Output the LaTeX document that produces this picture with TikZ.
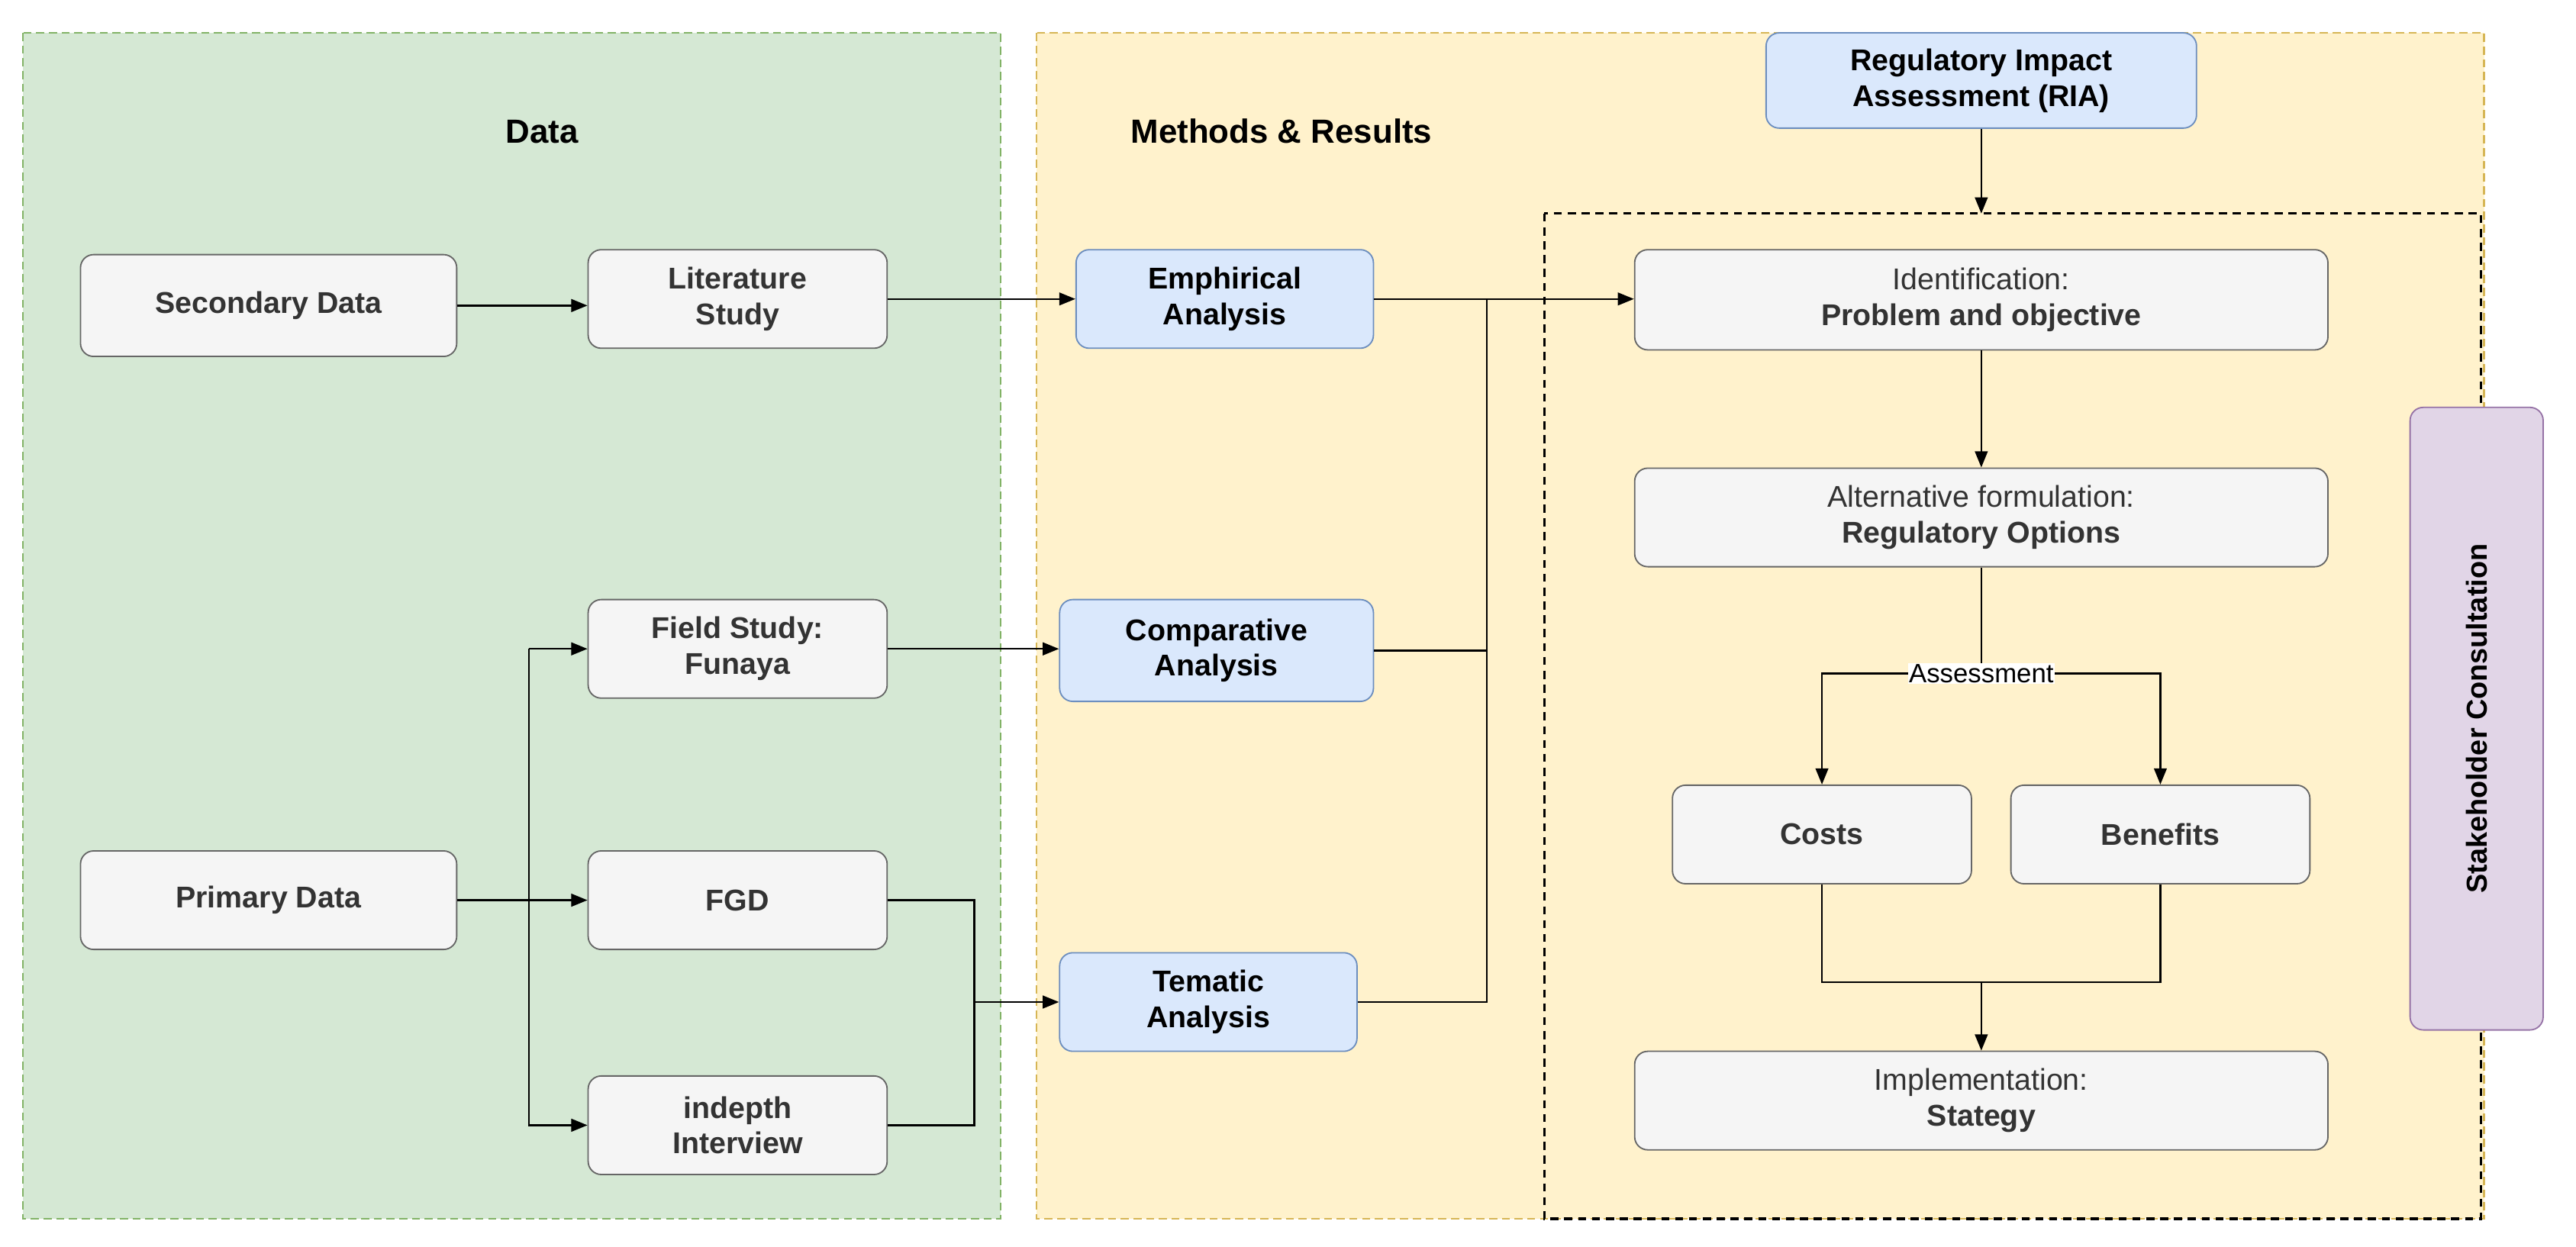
\documentclass[tikz,border=0pt]{standalone}
\usepackage{fontspec}
\setmainfont{Liberation Sans}
\usetikzlibrary{arrows.meta}
\definecolor{gfill}{HTML}{D5E8D4}\definecolor{gline}{HTML}{82B366}
\definecolor{yfill}{HTML}{FFF2CC}\definecolor{yline}{HTML}{D6B656}
\definecolor{bfill}{HTML}{DAE8FC}\definecolor{bline}{HTML}{6C8EBF}
\definecolor{pfill}{HTML}{E1D5E7}\definecolor{pline}{HTML}{9673A6}
\definecolor{wfill}{HTML}{F5F5F5}\definecolor{wline}{HTML}{666666}
\definecolor{txt}{HTML}{333333}
\newcommand\mk[7]{\node[#6, minimum width={(#4-#2)*0.05cm}, minimum height={(#5-#3)*0.05cm}] (#1) at ({(#2+#4)/2},{(#3+#5)/2}) {#7};}
\begin{document}
\begin{tikzpicture}[x=0.05cm,y=-0.05cm,
 box/.style={draw=wline,fill=wfill,rounded corners=0.4cm,line width=1.2pt,align=center,inner sep=0pt,text=txt,font=\fontsize{26}{31}\selectfont},
 bbox/.style={box,fill=bfill,draw=bline,text=black},
 con/.style={line width=1.6pt},
 arr/.style={con,-{Triangle[length=14pt,width=11pt]}},
 pdash/.style={dash pattern=on 7pt off 4pt,line width=1.5pt}]
\useasboundingbox (0,0) rectangle (1568,759);
\fill[white] (0,0) rectangle (1568,759);
\draw[gline,fill=gfill,pdash] (14,20) rectangle (609,742);
\draw[yline,fill=yfill,pdash] (631,20) rectangle (1512,742);
\draw[black,dash pattern=on 7pt off 5pt,line width=2.2pt] (940,130) rectangle (1510,742);
\node[font=\fontsize{29}{34}\selectfont\bfseries] (tdata) at (330,80) {Data};
\node[font=\fontsize{29}{34}\selectfont\bfseries] (tmeth) at (780,80) {Methods \& Results};
\mk{ria}{1075}{20}{1337}{78}{bbox}{\textbf{Regulatory Impact}\\\textbf{Assessment (RIA)}}
\mk{sec}{49}{155}{278}{217}{box}{\textbf{Secondary Data}}
\mk{lit}{358}{152}{540}{212}{box}{\textbf{Literature}\\\textbf{Study}}
\mk{fld}{358}{365}{540}{425}{box}{\textbf{Field Study:}\\\textbf{Funaya}}
\mk{pri}{49}{518}{278}{578}{box}{\textbf{Primary Data}}
\mk{fgd}{358}{518}{540}{578}{box}{\textbf{FGD}}
\mk{ind}{358}{655}{540}{715}{box}{\textbf{indepth}\\\textbf{Interview}}
\mk{emp}{655}{152}{836}{212}{bbox}{\textbf{Emphirical}\\\textbf{Analysis}}
\mk{com}{645}{365}{836}{427}{bbox}{\textbf{Comparative}\\\textbf{Analysis}}
\mk{tem}{645}{580}{826}{640}{bbox}{\textbf{Tematic}\\\textbf{Analysis}}
\mk{idf}{995}{152}{1417}{213}{box}{Identification:\\\textbf{Problem and objective}}
\mk{alt}{995}{285}{1417}{345}{box}{Alternative formulation:\\\textbf{Regulatory Options}}
\mk{cst}{1018}{478}{1200}{538}{box}{\textbf{Costs}}
\mk{ben}{1224}{478}{1406}{538}{box}{\textbf{Benefits}}
\mk{imp}{995}{640}{1417}{700}{box}{Implementation:\\\textbf{Stategy}}
\node[draw=pline,fill=pfill,rounded corners=0.4cm,line width=1.2pt,rotate=90,minimum width=379*0.05cm,minimum height=81*0.05cm,font=\fontsize{25}{30}\selectfont\bfseries] (stk) at (1507.5,437.5) {Stakeholder Consultation};
\coordinate (boxtop) at (1206,130);
\draw[arr] (sec.east) -- (sec.east -| lit.west);
\draw[arr] (lit.east) -- (lit.east -| emp.west);
\draw[con] (pri.east) -- (322,548);
\draw[arr] (322,395) |- (fld.west);
\draw[arr] (322,548) -- (fgd.west);
\draw[arr] (322,395) -- (322,685) -- (ind.west);
\draw[arr] (fld.east) -- (fld.east -| com.west);
\draw[con] (fgd.east) -| (593,685) -- (ind.east);
\draw[arr] (593,610) -- (tem.west);
\draw[arr] (emp.east) -- (emp.east -| idf.west);
\draw[con] (com.east) -| (905,182);
\draw[con] (tem.east) -| (905,396);
\draw[arr] (ria.south) -- (boxtop);
\draw[arr] (idf.south) -- (alt.north);
\coordinate (as) at (1206,410);
\draw[con] (alt.south) -- (as);
\draw[arr] (as) -| (cst.north);
\draw[arr] (as) -| (ben.north);
\node[fill=white,inner sep=1pt,font=\fontsize{23}{27}\selectfont] (asl) at (as) {Assessment};
\coordinate (jn) at (1206,598);
\draw[con] (cst.south) |- (jn);
\draw[con] (ben.south) |- (jn);
\draw[arr] (jn) -- (imp.north);
\end{tikzpicture}
\end{document}
